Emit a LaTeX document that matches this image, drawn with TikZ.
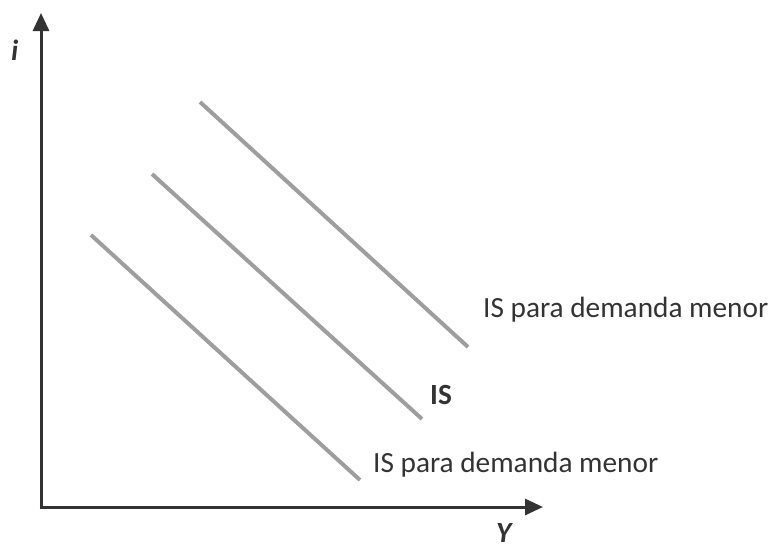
\documentclass[tikz,border=0pt]{standalone}
\usepackage{fontspec}
\setmainfont{Carlito}
\usetikzlibrary{arrows.meta, positioning}
\definecolor{axisgray}{HTML}{333333}
\definecolor{curvegray}{HTML}{9E9E9E}
\tikzstyle{axis} = [-{Triangle[length=18pt, width=16pt]}, line width=3pt, axisgray]
\tikzstyle{curve} = [line width=4pt, curvegray]
\tikzstyle{label} = [inner sep=0pt, text=axisgray, font=\fontsize{29.3}{35}\selectfont]

\begin{document}
\begin{tikzpicture}[x=1pt, y=-1pt]
    \useasboundingbox (0,0) rectangle (769,549);
    \coordinate (origin) at (41,507);
    \coordinate (y top) at (41,13);
    \coordinate (x end) at (543,507);

    % Axes.
    \draw [axis] (origin) -- (y top);
    \draw [axis] ([xshift=-1.5pt]origin) -- (x end);
    \node (i label) [label, anchor=base west, font=\fontsize{29.3}{35}\selectfont\bfseries\itshape] at (11,60) {i};
    \node (Y label) [label, anchor=base west, font=\fontsize{29.3}{35}\selectfont\bfseries\itshape] at (496,542) {Y};

    % IS curves.
    \coordinate (high a) at (200,102);
    \coordinate (high b) at (468,347);
    \coordinate (mid a) at (152,174);
    \coordinate (mid b) at (422,419);
    \coordinate (low a) at (91,235);
    \coordinate (low b) at (360,480);
    \draw [curve] (high a) -- (high b);
    \draw [curve] (mid a) -- (mid b);
    \draw [curve] (low a) -- (low b);

    \node (high text) [label, anchor=base west] at (483,317) {IS para demanda menor};
    \node (mid text) [label, anchor=base west, font=\fontsize{29.3}{35}\selectfont\bfseries] at (430,404) {IS};
    \node (low text) [label, anchor=base west] at (373,472) {IS para demanda menor};
\end{tikzpicture}
\end{document}
